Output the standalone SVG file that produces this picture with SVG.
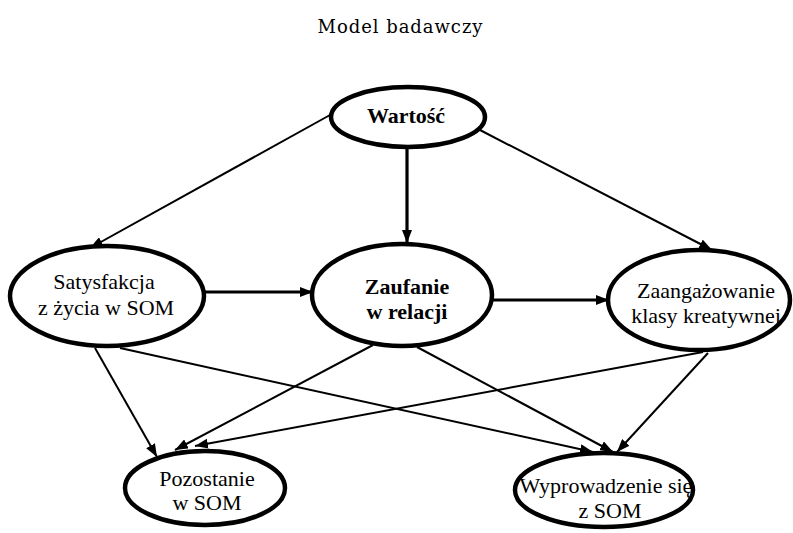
<svg xmlns="http://www.w3.org/2000/svg" width="793" height="533" viewBox="0 0 793 533">
<style>
.node ellipse{fill:#fff;stroke:#000;stroke-width:4.5}
.lbl{font-family:"Liberation Serif","Times New Roman",serif;font-size:22px;text-anchor:middle;fill:#000}
.b{font-weight:bold}
.title{font-family:"DejaVu Serif",serif;font-size:18px;text-anchor:middle;fill:#000}
.thin{stroke:#000;stroke-width:2;fill:none;marker-end:url(#ah)}
.thick{stroke:#000;stroke-width:3.2;fill:none;marker-end:url(#ah)}
</style>
<defs>
<marker id="ah" markerUnits="userSpaceOnUse" markerWidth="14" markerHeight="10" refX="13" refY="5" orient="auto">
<path d="M0,0 L13,5 L0,10 z" fill="#000"/>
</marker>
</defs>
<rect width="793" height="533" fill="#fff"/>
<text class="title" x="400" y="33" textLength="165">Model badawczy</text>
<g id="connectors">
<line class="thin" x1="330" y1="115" x2="90" y2="248"/>
<line class="thick" x1="407" y1="146" x2="407" y2="243"/>
<line class="thin" x1="480" y1="130" x2="712" y2="250"/>
<line class="thick" x1="203" y1="292" x2="313" y2="292"/>
<line class="thick" x1="492" y1="300" x2="609" y2="300"/>
<line class="thin" x1="95" y1="348" x2="157" y2="457"/>
<line class="thin" x1="120" y1="348" x2="593" y2="452"/>
<line class="thin" x1="373" y1="345" x2="175" y2="450"/>
<line class="thin" x1="417" y1="347" x2="613" y2="452"/>
<line class="thin" x1="703" y1="352" x2="195" y2="446"/>
<line class="thin" x1="708" y1="353" x2="617" y2="452"/>
</g>
<g id="wartosc" class="node">
<ellipse cx="408" cy="117" rx="77" ry="30"/>
<text class="lbl b" x="406" y="123">Wartość</text>
</g>
<g id="satysfakcja" class="node">
<ellipse cx="107" cy="296" rx="97" ry="50"/>
<text class="lbl" x="104" y="289">Satysfakcja</text>
<text class="lbl" x="106" y="315">z życia w SOM</text>
</g>
<g id="zaufanie" class="node">
<ellipse cx="402" cy="295" rx="90" ry="51"/>
<text class="lbl b" x="407" y="294">Zaufanie</text>
<text class="lbl b" x="407" y="319">w relacji</text>
</g>
<g id="zaangazowanie" class="node">
<ellipse cx="699" cy="300" rx="91" ry="50"/>
<text class="lbl" x="706" y="298">Zaangażowanie</text>
<text class="lbl" x="706" y="323">klasy kreatywnej</text>
</g>
<g id="pozostanie" class="node">
<ellipse cx="205" cy="488" rx="80" ry="37"/>
<text class="lbl" x="207" y="486">Pozostanie</text>
<text class="lbl" x="207" y="510">w SOM</text>
</g>
<g id="wyprowadzenie" class="node">
<ellipse cx="604" cy="490" rx="89" ry="37"/>
<text class="lbl" x="606" y="493">Wyprowadzenie się</text>
<text class="lbl" x="610" y="518">z SOM</text>
</g>
</svg>
